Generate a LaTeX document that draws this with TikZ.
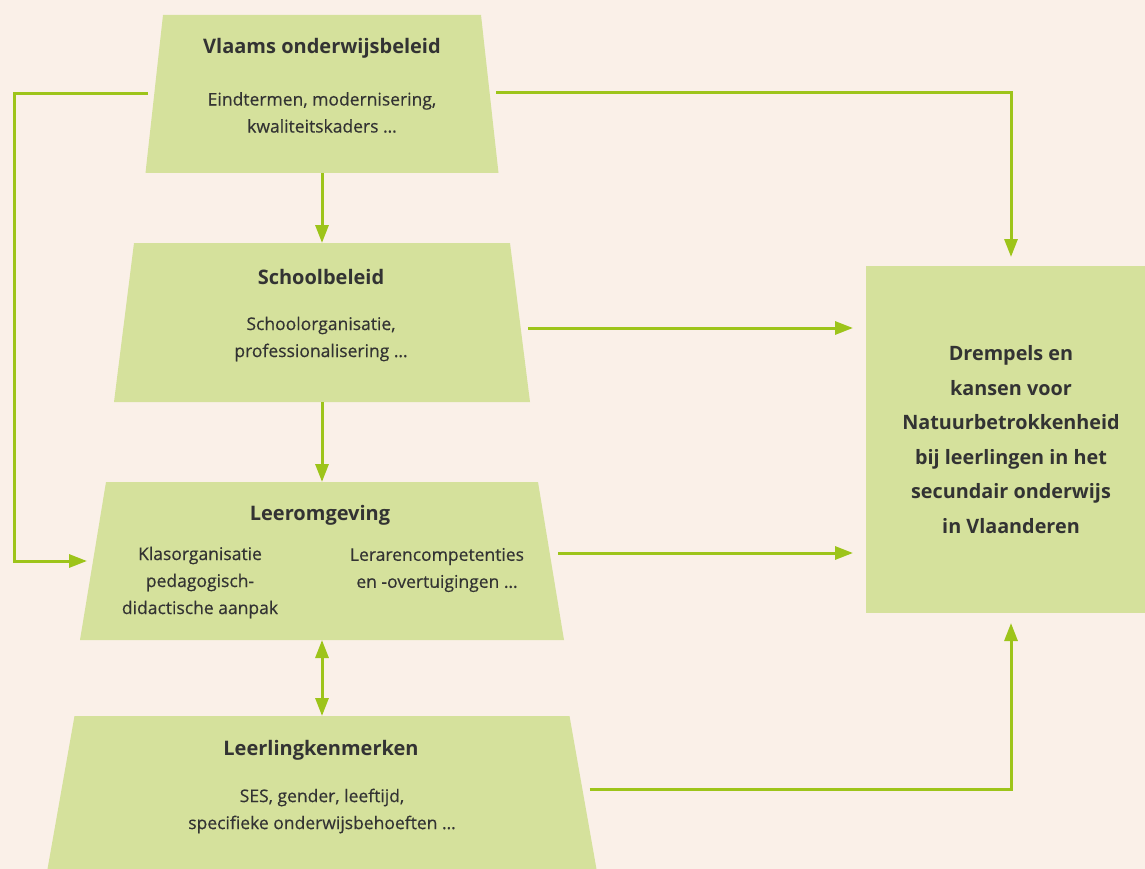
\documentclass[tikz,border=0pt]{standalone}
\usepackage{fontspec}
\setmainfont{Open Sans}
\newfontfamily\middel[FakeBold=0.4]{Open Sans}
\usepackage{tikz}
\usetikzlibrary{arrows.meta, calc}
\definecolor{achtergrond}{HTML}{FAF0E8}
\definecolor{blokgroen}{HTML}{D5E19C}
\definecolor{lijngroen}{HTML}{9DC41A}
\definecolor{donker}{HTML}{333333}

\begin{document}
\begin{tikzpicture}[x=1pt, y=-1pt,
        blok/.style={rectangle, draw=none, inner sep=0pt, outer sep=0pt},
        titel/.style={text=donker, font=\fontsize{20}{24}\selectfont\bfseries, align=center},
        tekst/.style={text=donker, font=\middel\fontsize{17.5}{27}\selectfont, align=center},
        pijl/.style={draw=lijngroen, line width=3pt, -{Triangle[length=18pt, width=13pt]}},
        tweepijl/.style={draw=lijngroen, line width=3pt, {Triangle[length=18pt, width=13pt]}-{Triangle[length=18pt, width=13pt]}}]

        \fill[achtergrond] (0,0) rectangle (1145,869);
        \useasboundingbox (0,0) rectangle (1145,869);
        \clip (0,0) rectangle (1145,869);

        \node[blok, minimum width=318pt, minimum height=158pt] (vlaams) at (322,94) {};
        \node[blok, minimum width=376pt, minimum height=159pt] (school) at (322,322.5) {};
        \node[blok, minimum width=432pt, minimum height=158pt] (leer) at (322,561) {};
        \node[blok, minimum width=495pt, minimum height=190pt] (leerling) at (322,811) {};

        \fill[blokgroen] (vlaams.north west) -- (vlaams.north east)
        -- ($(vlaams.south east)+(17.5,0)$) -- ($(vlaams.south west)+(-17.5,0)$) -- cycle;
        \fill[blokgroen] (school.north west) -- (school.north east)
        -- ($(school.south east)+(20,0)$) -- ($(school.south west)+(-20,0)$) -- cycle;
        \fill[blokgroen] (leer.north west) -- (leer.north east)
        -- ($(leer.south east)+(26,0)$) -- ($(leer.south west)+(-26,0)$) -- cycle;
        \fill[blokgroen] (leerling.north west) -- (leerling.north east)
        -- ($(leerling.south east)+(33.5,0)$) -- ($(leerling.south west)+(-33.5,0)$) -- cycle;

        \node[fill=blokgroen, inner sep=0pt, outer sep=0pt, minimum width=290pt, minimum height=347pt,
              text=donker, font=\fontsize{19.8}{34.6}\selectfont\bfseries, align=center] (doel) at (1011,439.5)
              {Drempels en\\kansen voor\\Natuurbetrokkenheid\\bij leerlingen in het\\secundair onderwijs\\in Vlaanderen};

        \node[titel] (vlaamsT) at (322,48) {Vlaams onderwijsbeleid};
        \node[tekst] (vlaamsB) at (322,112.5) {Eindtermen, modernisering,\\kwaliteitskaders \dots};
        \node[titel] (schoolT) at (321,277) {Schoolbeleid};
        \node[tekst] (schoolB) at (321,339) {Schoolorganisatie,\\professionalisering \dots};
        \node[titel] (leerT) at (320,515) {Leeromgeving};
        \node[tekst] (leerL) at (200,582.5) {Klasorganisatie\\pedagogisch-\\didactische aanpak};
        \node[tekst] (leerR) at (437,570) {Lerarencompetenties\\en -overtuigingen \dots};
        \node[titel] (leerlingT) at (321,750) {Leerlingkenmerken};
        \node[tekst] (leerlingB) at (322,811) {SES, gender, leeftijd,\\specifieke onderwijsbehoeften \dots};

        \coordinate (links) at (14,0);
        \coordinate (vlaamsL) at ($(vlaams.north west)+(-15,79)$);
        \coordinate (vlaamsR) at ($(vlaams.north east)+(15,78)$);
        \coordinate (schoolR) at ($(school.north east)+(18,85)$);
        \coordinate (leerIn) at ($(leer.north west)+(-19,79)$);
        \coordinate (leerUit) at ($(leer.north east)+(20,71)$);
        \coordinate (leerlingR) at ($(leerling.north east)+(20,73.5)$);

        \draw[pijl] (vlaams.south) -- (school.north);
        \draw[pijl] (school.south) -- (leer.north);
        \draw[tweepijl] (leer.south) -- (leerling.north);
        \draw[pijl] (vlaamsL) -- (links |- vlaamsL) -- (links |- leerIn) -- (leerIn);
        \draw[pijl, shorten >=9pt] (vlaamsR) -| (doel.north);
        \draw[pijl, shorten >=13pt] (schoolR) -- (schoolR -| doel.west);
        \draw[pijl, shorten >=13pt] (leerUit) -- (leerUit -| doel.west);
        \draw[pijl, shorten >=10pt] (leerlingR) -| (doel.south);
    \end{tikzpicture}
\end{document}
